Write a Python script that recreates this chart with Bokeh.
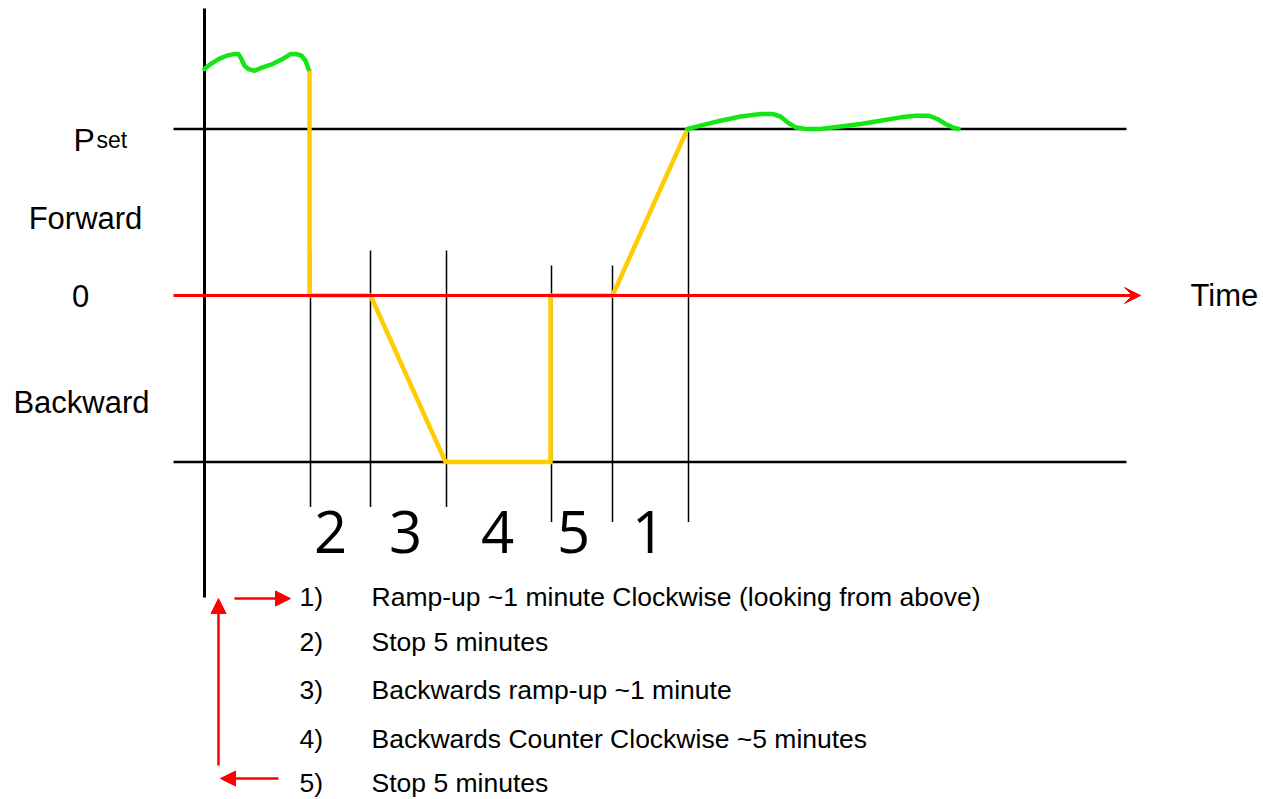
from bokeh.plotting import figure
from bokeh.models import Range1d, Arrow, VeeHead, NormalHead
from bokeh.core.properties import value
from bokeh.embed import file_html
from bokeh.resources import INLINE

# ---- data (time t in arbitrary units, speed level v: Pset=1, 0, Backward=-1) ----
green1_t = [0, 6, 14, 22, 29, 34, 37, 40, 44, 50, 58, 68, 78, 86, 92, 97, 101, 104]
green1_v = [1.36, 1.39, 1.42, 1.44, 1.45, 1.45, 1.42, 1.38, 1.36, 1.35, 1.37, 1.39, 1.42, 1.45, 1.45, 1.44, 1.41, 1.36]

yellow_t = [105, 105, 166, 241, 346, 346, 408, 483]
yellow_v = [1.36, 0, 0, -1, -1, 0, 0, 1]

green2_t = [483, 496, 516, 536, 556, 568, 576, 583, 591, 601, 616, 636, 656, 676, 696, 711, 724, 733, 741, 748, 754]
green2_v = [1.0, 1.02, 1.05, 1.075, 1.09, 1.09, 1.075, 1.04, 1.01, 1.0, 1.0, 1.015, 1.03, 1.05, 1.07, 1.08, 1.08, 1.06, 1.03, 1.01, 1.0]

marker_t = [106, 166, 242, 347, 408, 484]
marker_top = [0.27, 0.27, 0.27, 0.18, 0.18, 1.0]
marker_bot = [-1.27, -1.27, -1.27, -1.36, -1.36, -1.36]

phase_labels = ["2", "3", "4", "5", "1"]
phase_t = [126, 201, 293, 369, 444]
phase_v = -1.42

level_labels = ["Forward", "0", "Backward"]
level_t = [-119, -124, -123]
level_v = [0.46, 0, -0.64]

legend_nums = ["1)", "2)", "3)", "4)", "5)"]
legend_texts = [
    "Ramp-up ~1 minute Clockwise (looking from above)",
    "Stop 5 minutes",
    "Backwards ramp-up ~1 minute",
    "Backwards Counter Clockwise ~5 minutes",
    "Stop 5 minutes",
]
legend_v = [-1.808, -2.084, -2.372, -2.661, -2.93]

FONT = "Liberation Sans"

p = figure(width=1263, height=799, output_backend="svg", toolbar_location=None,
           x_range=Range1d(-204, 1059), y_range=Range1d(-3.027, 1.7718),
           min_border=0, outline_line_color=None)
p.axis.visible = False
p.grid.visible = False

# level lines
p.segment(x0=[-31, -31], y0=[1, -1], x1=[922, 922], y1=[1, -1], line_color="black", line_width=2.5)
# zero axis (red) with arrow
p.add_layout(Arrow(x_start=-31, y_start=0, x_end=936, y_end=0, line_color="red", line_width=3,
                   end=VeeHead(size=16, fill_color="red", line_color="red", line_width=1)))
# vertical axis
p.segment(x0=[0], y0=[1.724], x1=[0], y1=[-1.814], line_color="black", line_width=3)

# phase markers
p.segment(x0=marker_t, y0=marker_top, x1=marker_t, y1=marker_bot, line_color="black", line_width=1.5)

# curves
p.line(yellow_t, yellow_v, line_color="#FFCC00", line_width=4.5, line_join="miter")
p.line(green1_t, green1_v, line_color="#14E614", line_width=4.5, line_cap="round", line_join="round")
p.line(green2_t, green2_v, line_color="#14E614", line_width=4.5, line_cap="round", line_join="round")

# phase labels
p.text(x=phase_t, y=[phase_v] * len(phase_t), text=phase_labels, text_align="center",
       text_baseline="middle", text_font=value("Open Sans"), text_font_size=value("58px"),
       text_color="black")

# level labels
p.text(x=level_t, y=level_v, text=level_labels, text_align="center", text_baseline="middle",
       text_font=value(FONT), text_font_size=value("31px"), text_color="black")
p.text(x=[-131], y=[0.931], text=["P"], text_align="left", text_baseline="alphabetic",
       text_font=value(FONT), text_font_size=value("32px"), text_color="black")
p.text(x=[-108], y=[0.931], text=["set"], text_align="left", text_baseline="alphabetic",
       text_font=value(FONT), text_font_size=value("23px"), text_color="black")
p.text(x=[986], y=[0], text=["Time"], text_align="left", text_baseline="middle",
       text_font=value(FONT), text_font_size=value("31px"), text_color="black")

# legend
p.text(x=[95] * 5, y=legend_v, text=legend_nums, text_align="left", text_baseline="middle",
       text_font=value(FONT), text_font_size=value("26.5px"), text_color="black")
p.text(x=[167] * 5, y=legend_v, text=legend_texts, text_align="left", text_baseline="middle",
       text_font=value(FONT), text_font_size=value("26.5px"), text_color="black")

# cycle arrows
def head():
    return NormalHead(size=15, fill_color="red", line_color="red", line_width=1)

p.add_layout(Arrow(x_start=30, y_start=-1.82, x_end=86, y_end=-1.82, line_color="red", line_width=2.5, end=head()))
p.add_layout(Arrow(x_start=14, y_start=-2.823, x_end=14, y_end=-1.82, line_color="red", line_width=2.5, end=head()))
p.add_layout(Arrow(x_start=74, y_start=-2.901, x_end=16, y_end=-2.901, line_color="red", line_width=2.5, end=head()))

open("out.html", "w").write(file_html(p, INLINE))
